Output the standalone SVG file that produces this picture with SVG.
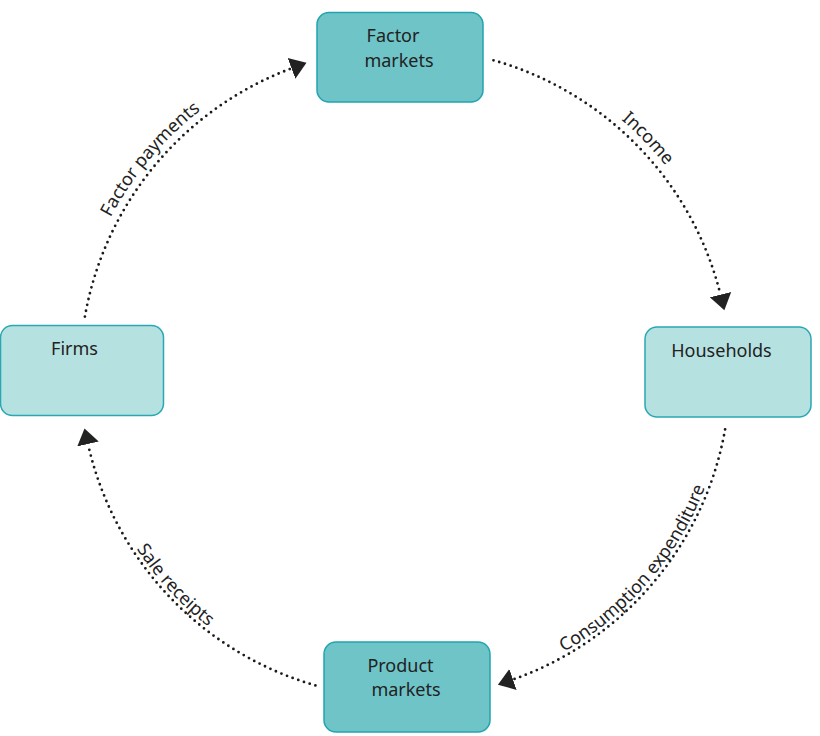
<svg xmlns="http://www.w3.org/2000/svg" width="820" height="736" viewBox="0 0 820 736">
<style>
.dark{fill:#6fc4c8;stroke:#22a4b0;stroke-width:1.5}
.light{fill:#b6e1e1;stroke:#2aa7b3;stroke-width:1.5}
.lbl{font-family:"Noto Sans","Open Sans",sans-serif;font-size:18px;fill:#222}
.flow{fill:none;stroke:#1a1a1a;stroke-width:2.8;stroke-linecap:round;stroke-dasharray:0 6}
</style>
<defs>
<marker id="arr" markerUnits="userSpaceOnUse" markerWidth="17" markerHeight="24" refX="0" refY="11" orient="auto" viewBox="0 0 17 22">
<path d="M0,0 L16,11 L0,22 z" fill="#222"/>
</marker>
<path id="pFP" d="M77.1,315.2 A333,333 0 0 1 291.1,60.1"/>
<path id="pIN" d="M496.8,52.9 A333,333 0 0 1 728.1,292.4"/>
<path id="pCE" d="M468.5,687.7 A321,321 0 0 0 725.7,387.6"/>
<path id="pSR" d="M91.9,443.6 A321,321 0 0 0 309.5,679.5"/>
</defs>
<g id="connectors">
<path id="c-factor-payments" class="flow" d="M84.9,316.6 A325,325 0 0 1 291.5,68.4" marker-end="url(#arr)"/>
<path id="c-income" class="flow" d="M493.5,60.3 A325,325 0 0 1 720.5,294.7" marker-end="url(#arr)"/>
<path id="c-consumption" class="flow" d="M725.1,429.4 A325,325 0 0 1 513.0,679.5" marker-end="url(#arr)"/>
<path id="c-sale" class="flow" d="M315.4,685.4 A325,325 0 0 1 88.0,444.0" marker-end="url(#arr)"/>
<text class="lbl"><textPath href="#pFP" startOffset="50%" text-anchor="middle">Factor payments</textPath></text>
<text class="lbl"><textPath href="#pIN" startOffset="50%" text-anchor="middle">Income</textPath></text>
<text class="lbl"><textPath href="#pCE" startOffset="50%" text-anchor="middle">Consumption expenditure</textPath></text>
<text class="lbl"><textPath href="#pSR" startOffset="50%" text-anchor="middle">Sale receipts</textPath></text>
</g>
<g id="factor-markets">
<rect class="dark" x="317" y="12.5" width="166" height="89.5" rx="12"/>
<text class="lbl" x="393" y="42" text-anchor="middle">Factor</text>
<text class="lbl" x="399" y="67" text-anchor="middle">markets</text>
</g>
<g id="households">
<rect class="light" x="645" y="327" width="166" height="90" rx="12"/>
<text class="lbl" x="721.5" y="357" text-anchor="middle">Households</text>
</g>
<g id="product-markets">
<rect class="dark" x="324" y="642" width="166" height="90" rx="12"/>
<text class="lbl" x="400.5" y="672" text-anchor="middle">Product</text>
<text class="lbl" x="406" y="696" text-anchor="middle">markets</text>
</g>
<g id="firms">
<rect class="light" x="0.5" y="325.5" width="163" height="90" rx="12"/>
<text class="lbl" x="74.5" y="355" text-anchor="middle">Firms</text>
</g>
</svg>
